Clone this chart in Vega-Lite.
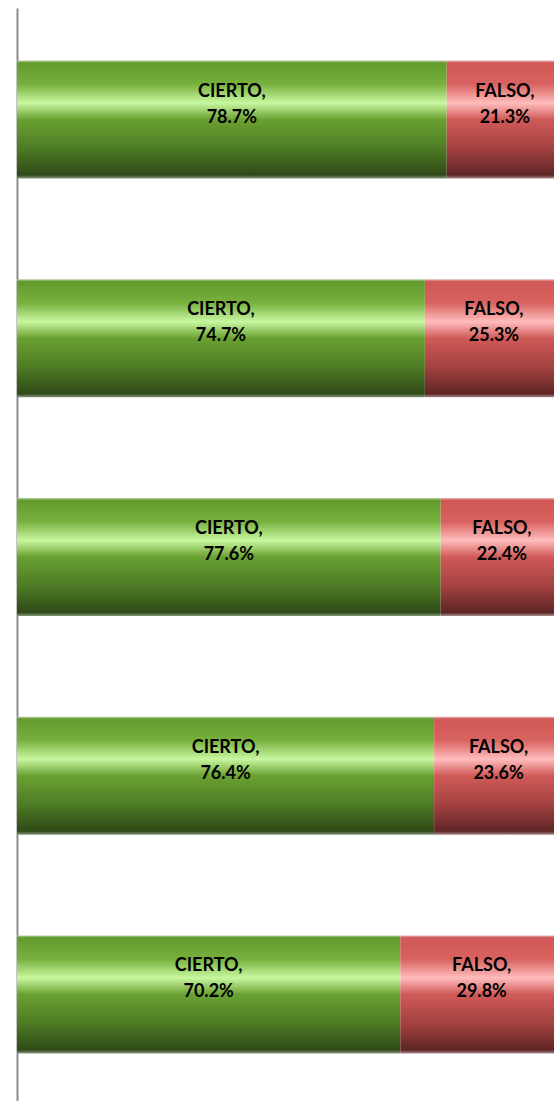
{
  "$schema": "https://vega.github.io/schema/vega-lite/v6.json",
  "autosize": {"type": "none"},
  "padding": {"left": 17, "top": 8, "right": 0, "bottom": 0},
  "width": 546,
  "height": 1098,
  "background": "white",
  "config": {"view": {"stroke": null}},
  "data": {
    "values": [
      {"q": 1, "resp": "CIERTO", "pct": 78.7},
      {"q": 1, "resp": "FALSO", "pct": 21.3},
      {"q": 2, "resp": "CIERTO", "pct": 74.7},
      {"q": 2, "resp": "FALSO", "pct": 25.3},
      {"q": 3, "resp": "CIERTO", "pct": 77.6},
      {"q": 3, "resp": "FALSO", "pct": 22.4},
      {"q": 4, "resp": "CIERTO", "pct": 76.4},
      {"q": 4, "resp": "FALSO", "pct": 23.6},
      {"q": 5, "resp": "CIERTO", "pct": 70.2},
      {"q": 5, "resp": "FALSO", "pct": 29.8}
    ]
  },
  "transform": [
    {"stack": "pct", "groupby": ["q"], "sort": [{"field": "resp", "order": "ascending"}], "as": ["x0", "x1"]},
    {"calculate": "(datum.x0 + datum.x1) / 2", "as": "xm"},
    {"calculate": "[datum.resp + ',', format(datum.pct, '.1f') + '%']", "as": "label"}
  ],
  "encoding": {
    "y": {
      "field": "q", "type": "ordinal", "sort": "ascending",
      "scale": {"paddingInner": 0.46, "paddingOuter": 0.24},
      "axis": {"title": null, "labels": false, "ticks": false, "domainColor": "#8c8c8c", "domainWidth": 2, "grid": false}
    }
  },
  "layer": [
    {
      "transform": [{"filter": "datum.resp === 'CIERTO'"}],
      "mark": {
        "type": "bar",
        "color": {
          "gradient": "linear", "x1": 0, "y1": 0, "x2": 0, "y2": 1,
          "stops": [
            {"offset": 0, "color": "#b9cfa6"},
            {"offset": 0.02, "color": "#629b2c"},
            {"offset": 0.2, "color": "#78b03e"},
            {"offset": 0.36, "color": "#c8f7a0"},
            {"offset": 0.5, "color": "#6aa132"},
            {"offset": 0.75, "color": "#4d7a24"},
            {"offset": 0.97, "color": "#2f4a17"},
            {"offset": 1, "color": "#8a9a80"}
          ]
        }
      },
      "encoding": {
        "x": {"field": "x0", "type": "quantitative", "scale": {"domain": [0, 100]}, "axis": null},
        "x2": {"field": "x1"}
      }
    },
    {
      "transform": [{"filter": "datum.resp === 'FALSO'"}],
      "mark": {
        "type": "bar",
        "color": {
          "gradient": "linear", "x1": 0, "y1": 0, "x2": 0, "y2": 1,
          "stops": [
            {"offset": 0, "color": "#e6b4b4"},
            {"offset": 0.02, "color": "#d05856"},
            {"offset": 0.2, "color": "#d8625f"},
            {"offset": 0.36, "color": "#ffbcbc"},
            {"offset": 0.5, "color": "#d05a58"},
            {"offset": 0.75, "color": "#a24140"},
            {"offset": 0.97, "color": "#5e2525"},
            {"offset": 1, "color": "#a88c8c"}
          ]
        }
      },
      "encoding": {
        "x": {"field": "x0", "type": "quantitative", "scale": {"domain": [0, 100]}, "axis": null},
        "x2": {"field": "x1"}
      }
    },
    {
      "mark": {"type": "text", "font": "Lato", "fontWeight": "bold", "fontSize": 18, "color": "black", "align": "center", "baseline": "middle", "lineHeight": 26, "dy": -28},
      "encoding": {
        "x": {"field": "xm", "type": "quantitative", "scale": {"domain": [0, 100]}, "axis": null},
        "text": {"field": "label"}
      }
    }
  ]
}
